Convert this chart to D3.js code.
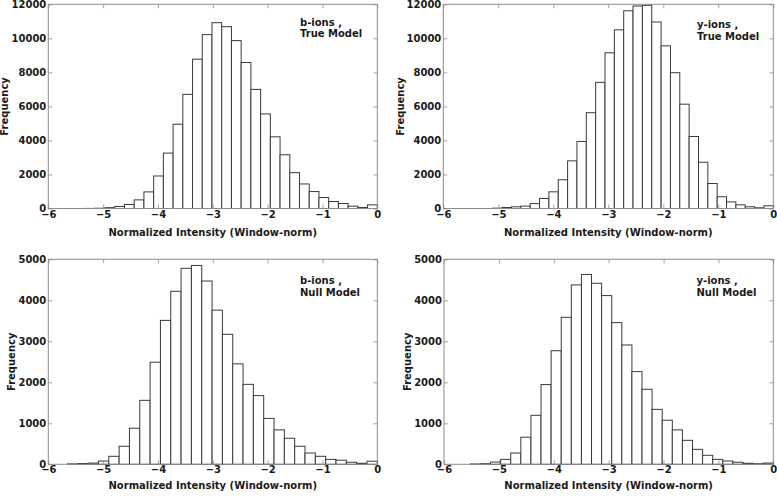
<!DOCTYPE html>
<html>
<head>
<meta charset="utf-8">
<script src="https://cdn.jsdelivr.net/npm/d3@7"></script>
<style>
  html, body { margin: 0; padding: 0; background: #fff; }
  svg { display: block; font-family: "DejaVu Sans", sans-serif; font-weight: bold; }
</style>
</head>
<body>
<svg id="chart" width="777" height="496"></svg>
<script>
// ---- data (30 histogram bins per panel, spanning [binLow, 0]) ----
const panelTitles = ["b-ions ,\nTrue Model", "y-ions ,\nTrue Model", "b-ions ,\nNull Model", "y-ions ,\nNull Model"];
const binLow = [-5.32, -5.10, -5.65, -5.52];
const bTrueCounts = [5, 15, 50, 120, 234, 507, 975, 1911, 3257, 4953, 6708, 8775, 10218, 10920, 10686, 9867, 8580, 7000, 5558, 4212, 3159, 2106, 1443, 995, 644, 410, 293, 137, 58, 215];
const yTrueCounts = [20, 60, 100, 140, 290, 590, 980, 1690, 2800, 3940, 5630, 7410, 9150, 10500, 11620, 11900, 11940, 10960, 9560, 7980, 6130, 4230, 2720, 1470, 690, 390, 215, 100, 40, 160];
const bNullCounts = [10, 20, 30, 80, 195, 440, 880, 1560, 2490, 3510, 4220, 4780, 4850, 4470, 3760, 3170, 2450, 1950, 1675, 1120, 840, 635, 440, 275, 195, 120, 100, 50, 25, 75];
const yNullCounts = [8, 15, 55, 120, 275, 660, 1195, 1945, 2770, 3585, 4375, 4630, 4415, 4115, 3455, 2910, 2260, 1830, 1340, 1075, 840, 585, 365, 220, 120, 80, 50, 25, 15, 30];
const xTicks = [-6, -5, -4, -3, -2, -1, 0];
const yTicksTop = [0, 2000, 4000, 6000, 8000, 10000, 12000];
const yTicksBottom = [0, 1000, 2000, 3000, 4000, 5000];
const xLabel = "Normalized Intensity (Window-norm)";
const yLabel = "Frequency";

// ---- layout ----
const panels = [
  { counts: bTrueCounts, low: binLow[0], title: panelTitles[0], yTicks: yTicksTop, box: [48.3, 4.3, 377.3, 208.5], ann: [300, 25.7], ylab: 40, tickBase: 9.8, xlab: 27 },
  { counts: yTrueCounts, low: binLow[1], title: panelTitles[1], yTicks: yTicksTop, box: [443.3, 4.3, 773.3, 208.5], ann: [697, 28.3], ylab: 39, tickBase: 9.8, xlab: 27 },
  { counts: bNullCounts, low: binLow[2], title: panelTitles[2], yTicks: yTicksBottom, box: [48.3, 259.3, 377.3, 464.3], ann: [300, 284.3], ylab: 33.5, tickBase: 8.6, xlab: 24.2 },
  { counts: yNullCounts, low: binLow[3], title: panelTitles[3], yTicks: yTicksBottom, box: [444, 259.3, 773.3, 464.3], ann: [696.5, 284.3], ylab: 33.5, tickBase: 8.6, xlab: 24.2 }
];

const svg = d3.select("#chart");
const spineColor = "#8c8c8c";

panels.forEach(p => {
  const [x0, y0, x1, y1] = p.box;
  const x = d3.scaleLinear().domain([-6, 0]).range([x0, x1]);
  const yMax = p.yTicks[p.yTicks.length - 1];
  const y = d3.scaleLinear().domain([0, yMax]).range([y1, y0]);
  const n = p.counts.length;
  const w = (0 - p.low) / n;
  const bins = p.counts.map((c, i) => ({ a: p.low + i * w, b: p.low + (i + 1) * w, c }));

  const g = svg.append("g");

  // bars
  g.selectAll("rect.bar").data(bins).enter().append("rect")
    .attr("class", "bar")
    .attr("x", d => x(d.a))
    .attr("y", d => y(d.c))
    .attr("width", d => x(d.b) - x(d.a))
    .attr("height", d => y(0) - y(d.c))
    .attr("fill", "#fff")
    .attr("stroke", "#3a3a3a")
    .attr("stroke-width", 1);

  // axes (ticks inward, on all four sides)
  const tl = 4;
  const bottomAxis = d3.axisBottom(x).tickValues(xTicks).tickSize(-tl).tickPadding(0)
    .tickFormat(d => (d < 0 ? "\u2212" + Math.abs(d) : String(d)));
  const leftAxis = d3.axisLeft(y).tickValues(p.yTicks).tickSize(-tl).tickPadding(2)
    .tickFormat(d3.format("d"));
  const topAxis = d3.axisTop(x).tickValues(xTicks).tickSize(-tl).tickFormat("");
  const rightAxis = d3.axisRight(y).tickValues(p.yTicks).tickSize(-tl).tickFormat("");

  const gb = g.append("g").attr("transform", `translate(0,${y1})`).call(bottomAxis);
  const gl = g.append("g").attr("transform", `translate(${x0},0)`).call(leftAxis);
  const gt = g.append("g").attr("transform", `translate(0,${y0})`).call(topAxis);
  const gr = g.append("g").attr("transform", `translate(${x1},0)`).call(rightAxis);
  [gb, gl, gt, gr].forEach(a => {
    a.select(".domain").remove();
    a.selectAll(".tick line").attr("stroke", spineColor).attr("stroke-width", 0.8);
    a.selectAll("text").attr("fill", "#1a1a1a").style("font-size", "10px").style("font-weight", "bold")
      .style("font-family", "'DejaVu Sans', sans-serif");
  });
  gb.selectAll("text").attr("y", p.tickBase).attr("dy", null);

  // frame
  g.append("rect")
    .attr("x", x0).attr("y", y0).attr("width", x1 - x0).attr("height", y1 - y0)
    .attr("fill", "none").attr("stroke", spineColor).attr("stroke-width", 1);

  // axis labels
  g.append("text")
    .attr("x", (x0 + x1) / 2).attr("y", y1 + p.xlab)
    .attr("text-anchor", "middle").attr("fill", "#1a1a1a")
    .style("font-size", "10px")
    .text(xLabel);
  g.append("text")
    .attr("transform", `translate(${x0 - p.ylab},${(y0 + y1) / 2}) rotate(-90)`)
    .attr("text-anchor", "middle").attr("fill", "#1a1a1a")
    .style("font-size", "10px")
    .text(yLabel);

  // annotation
  const lines = p.title.split("\n");
  const t = g.append("text").attr("fill", "#1a1a1a").style("font-size", "10px");
  lines.forEach((l, i) => {
    t.append("tspan").attr("x", p.ann[0]).attr("y", p.ann[1] + i * 11.6).text(l);
  });
});
</script>
</body>
</html>
